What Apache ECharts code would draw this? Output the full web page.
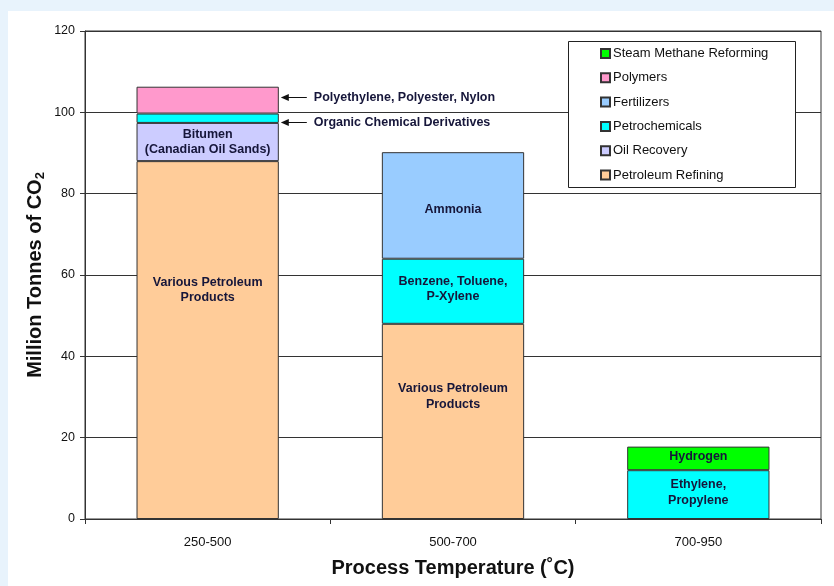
<!DOCTYPE html>
<html>
<head>
<meta charset="utf-8">
<script src="https://cdn.jsdelivr.net/npm/echarts@6/dist/echarts.min.js"></script>
<style>
  html, body { margin: 0; padding: 0; background: #e8f3fc; }
  #panel { position: absolute; left: 8px; top: 11px; width: 826px; height: 575px; background: #ffffff; }
  #chart { position: absolute; left: 0; top: 0; width: 834px; height: 586px; }
</style>
</head>
<body>
<div id="panel"></div>
<div id="chart"></div>
<script>
// Process temperature bands
const categories = ['250-500', '500-700', '700-950'];

// Million tonnes of CO2 per source, stacked bottom to top
const petroleumRefining = [88, 48, null];
const oilRecovery = [9.4, null, null];
const petrochemicals = [2.3, 16, 12];
const fertilizers = [null, 26.2, null];
const polymers = [6.6, null, null];
const steamMethane = [null, null, 5.8];

// Text written inside the segments
const refiningLabels = ['Various Petroleum\nProducts', 'Various Petroleum\nProducts', ''];
const recoveryLabels = ['Bitumen\n(Canadian Oil Sands)', '', ''];
const petrochemLabels = ['', 'Benzene, Toluene,\nP-Xylene', 'Ethylene,\nPropylene'];
const fertilizerLabels = ['', 'Ammonia', ''];
const smrLabels = ['', '', 'Hydrogen'];

// Callouts on the first bar
const polymerCallout = 'Polyethylene, Polyester, Nylon';
const organicCallout = 'Organic Chemical Derivatives';

const yTicks = [0, 20, 40, 60, 80, 100, 120];

const FONT = 'Liberation Sans, Arial, sans-serif';
const LABEL_COLOR = '#16163a';
const BAR_WIDTH = 0.58;

const chart = echarts.init(document.getElementById('chart'), null, { renderer: 'canvas' });

function labelled(values, labels, offsets) {
  return values.map((v, i) => {
    const item = { value: v };
    if (labels[i]) {
      item.label = { show: true, formatter: labels[i] };
      if (offsets && offsets[i]) item.label.offset = [0, offsets[i]];
    } else {
      item.label = { show: false };
    }
    return item;
  });
}

function barSeries(name, color, data) {
  return {
    name: name,
    type: 'bar',
    stack: 'total',
    barWidth: (BAR_WIDTH * 100) + '%',
    itemStyle: { color: color, borderColor: '#333333', borderWidth: 1 },
    label: {
      show: true,
      position: 'inside',
      color: LABEL_COLOR,
      fontFamily: FONT,
      fontWeight: 'bold',
      fontSize: 12.5,
      lineHeight: 15.5
    },
    emphasis: { disabled: true },
    data: data
  };
}

const option = {
  backgroundColor: 'transparent',
  animation: false,
  grid: { left: 85, right: 13, top: 31, bottom: 67, containLabel: false,
          outerBoundsMode: 'none',
          show: true, borderColor: '#333333', borderWidth: 1 },
  legend: {
    orient: 'vertical',
    left: 600, top: 47,
    z: 10,
    padding: 0,
    itemGap: 11.3,
    itemWidth: 9, itemHeight: 9,
    icon: 'rect',
    data: ['Steam Methane Reforming', 'Polymers', 'Fertilizers', 'Petrochemicals', 'Oil Recovery', 'Petroleum Refining'],
    textStyle: { fontFamily: FONT, fontSize: 13, color: '#111111', padding: [0, 0, 0, -2] }
  },
  xAxis: {
    type: 'category',
    data: categories,
    axisLine: { lineStyle: { color: '#333333', width: 1 } },
    axisTick: { show: true, length: 5, lineStyle: { color: '#333333' } },
    axisLabel: { color: '#111111', fontFamily: FONT, fontSize: 13, margin: 17 },
    name: 'Process Temperature (\u02daC)',
    nameLocation: 'middle',
    nameGap: 39,
    nameMoveOverlap: false,
    nameTextStyle: { fontFamily: FONT, fontSize: 20, fontWeight: 'bold', color: '#111111' }
  },
  yAxis: {
    type: 'value',
    min: yTicks[0], max: yTicks[yTicks.length - 1], interval: yTicks[1] - yTicks[0],
    axisLine: { show: true, lineStyle: { color: '#333333', width: 1 } },
    axisTick: { show: true, length: 5, lineStyle: { color: '#333333' } },
    axisLabel: { color: '#111111', fontFamily: FONT, fontSize: 12.5, margin: 10 },
    splitLine: { show: true, lineStyle: { color: '#333333', width: 1 } },
    name: '{a|Million Tonnes of CO}{b|2}',
    nameLocation: 'middle',
    nameGap: 37,
    nameMoveOverlap: false,
    nameTextStyle: {
      rich: {
        a: { fontFamily: FONT, fontSize: 20, fontWeight: 'bold', color: '#111111', lineHeight: 26 },
        b: { fontFamily: FONT, fontSize: 13, fontWeight: 'bold', color: '#111111', lineHeight: 26, padding: [11, 0, 0, 0] }
      }
    }
  },
  series: [
    barSeries('Petroleum Refining', '#ffcc99', labelled(petroleumRefining, refiningLabels, [-50, -25, 0])),
    barSeries('Oil Recovery', '#ccccff', labelled(oilRecovery, recoveryLabels)),
    barSeries('Petrochemicals', '#00ffff', labelled(petrochemicals, petrochemLabels, [0, -2, -2])),
    barSeries('Fertilizers', '#99ccff', labelled(fertilizers, fertilizerLabels, [0, 4, 0])),
    barSeries('Polymers', '#ff99cc', labelled(polymers, smrLabels.map(() => ''))),
    barSeries('Steam Methane Reforming', '#00ff00', labelled(steamMethane, smrLabels, [0, 0, -2]))
  ]
};

chart.setOption(option);

// Legend frame, callout arrows and texts placed through the axes
function drawOverlays() {
  const x0 = chart.convertToPixel({ xAxisIndex: 0 }, categories[0]);
  const x1 = chart.convertToPixel({ xAxisIndex: 0 }, categories[1]);
  const barRight = x0 + (x1 - x0) * BAR_WIDTH / 2;

  const base = petroleumRefining[0] + oilRecovery[0];
  const calloutValues = [
    base + petrochemicals[0] + polymers[0] * 0.62,
    base + petrochemicals[0] * 0.1
  ];
  const texts = [polymerCallout, organicCallout];

  const elements = [{
    type: 'rect', z: 5,
    shape: { x: 568.5, y: 41.5, width: 227, height: 146 },
    style: { fill: '#ffffff', stroke: '#222222', lineWidth: 1 }
  }];

  calloutValues.forEach((v, i) => {
    const y = Math.round(chart.convertToPixel({ yAxisIndex: 0 }, v)) + 0.5;
    const tipX = barRight + 2;
    elements.push({
      type: 'line', z: 6,
      shape: { x1: tipX + 6, y1: y, x2: tipX + 26, y2: y },
      style: { stroke: '#111111', lineWidth: 1 }
    });
    elements.push({
      type: 'polygon', z: 6,
      shape: { points: [[tipX, y], [tipX + 8, y - 3.5], [tipX + 8, y + 3.5]] },
      style: { fill: '#111111' }
    });
    elements.push({
      type: 'text', z: 6,
      x: tipX + 33, y: y,
      style: { text: texts[i], fontFamily: FONT, fontSize: 12.5, fontWeight: 'bold',
               fill: LABEL_COLOR, verticalAlign: 'middle', align: 'left' }
    });
  });

  chart.setOption({ graphic: { elements: elements } });
}

drawOverlays();
</script>
</body>
</html>
